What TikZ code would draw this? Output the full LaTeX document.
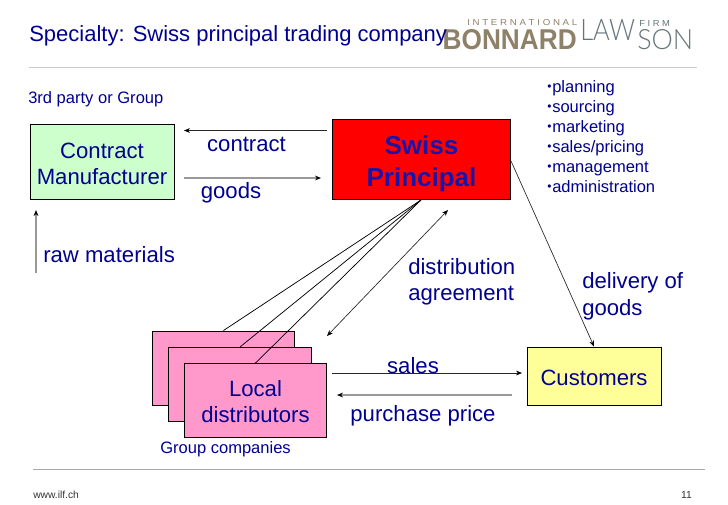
\documentclass[tikz,border=0pt]{standalone}
\usepackage{fontspec}
\setmainfont{Liberation Sans}
\newfontfamily\thinfont{Lato Light}
\usetikzlibrary{arrows.meta}
\definecolor{ink}{HTML}{000090}
\definecolor{boldink}{HTML}{1A14A8}
\definecolor{tanlogo}{HTML}{8F8068}
\definecolor{slate}{HTML}{66757A}
\definecolor{rulegrey}{HTML}{C8CCCC}
\definecolor{footgrey}{HTML}{A8A8A8}
\definecolor{cmgreen}{HTML}{CCFFCC}
\definecolor{pinkbox}{HTML}{FF99CC}
\definecolor{custyellow}{HTML}{FFFF99}
\newcommand{\bul}{\makebox[3.75pt][l]{\raisebox{1.2pt}{\fontsize{9}{9}\selectfont•}}}
\tikzset{
  x=0.75pt,y=-0.75pt,
  box/.style={draw=black,line width=0.75pt,inner sep=0pt},
  boxtext/.style={inner sep=0pt,align=center,text=ink,font=\fontsize{16.6}{19.5}\selectfont},
  lab/.style={inner sep=0pt,text=ink,font=\fontsize{16.6}{19.5}\selectfont,align=left},
  small/.style={inner sep=0pt,text=ink,font=\fontsize{12.4}{15}\selectfont,anchor=west,align=left},
  bullet/.style={inner sep=0pt,text=ink,font=\fontsize{12.4}{15}\selectfont,anchor=base west},
  foot/.style={inner sep=0pt,text=black!80,font=\fontsize{7.7}{9}\selectfont},
  conn/.style={line width=0.5pt,draw=black!85},
  soft/.style={line width=0.9pt,draw=black!40},
  tip/.style={-{Stealth[length=4.5pt,width=3.6pt,black]}},
  tiptwo/.style={{Stealth[length=4.5pt,width=3.6pt,black]}-{Stealth[length=4.5pt,width=3.6pt,black]}},
  hrule/.style={line width=0.7pt,draw=rulegrey},
  logo/.style={inner sep=0pt},
}
\begin{document}
\begin{tikzpicture}
\useasboundingbox (0,0) rectangle (728,504);
\fill[white] (0,0) rectangle (728,504);
% rules
\coordinate (hl) at (29,67); \coordinate (hr) at (697,67);
\coordinate (fl) at (33,469); \coordinate (fr) at (705,469);
\draw[hrule] (hl) -- (hr);
\draw[hrule,draw=footgrey] (fl) -- (fr);
% logo
\node[logo,text=tanlogo,anchor=east] (bonnard) at (577,40) {\resizebox{100.5pt}{15pt}{\bfseries BONNARD}};
\node[logo,text=tanlogo,anchor=west] (intl) at (467,23) {\resizebox{82.5pt}{4.5pt}{I N T E R N A T I O N A L}};
\node[logo,text=slate,anchor=west] (law) at (580,30.5) {\resizebox{41pt}{15.7pt}{\thinfont LAW}};
\node[logo,text=slate,anchor=west] (firm) at (639,23) {\resizebox{23pt}{4.5pt}{F I R M}};
\node[logo,text=slate,anchor=west] (son) at (637,40) {\resizebox{42pt}{15pt}{\thinfont SON}};
% title
\node[inner sep=0pt,anchor=west,text=ink,font=\fontsize{16.5}{18}\selectfont] (title) at (29,36) {Specialty: Swiss principal trading company};
\node[small] (third) at (28,99) {3rd party or Group};
% boxes
\node[box,fill=cmgreen,minimum width=108pt,minimum height=56.5pt] (cm) at (102,162) {};
\node[box,fill=red,minimum width=134pt,minimum height=60.5pt] (swiss) at (421.5,159.5) {};
\node[box,fill=pinkbox,minimum width=107pt,minimum height=55.5pt] (d1) at (223.5,368) {};
\node[box,fill=pinkbox,minimum width=107pt,minimum height=55.5pt] (d2) at (240,384.5) {};
% lines from the principal to the tops of the distributor boxes
\coordinate (fan) at (421,200);
\draw[line width=0.55pt] (fan) -- (d1.north);
\draw[line width=0.55pt] (fan) -- (d2.north);
\node[box,fill=pinkbox,minimum width=107pt,minimum height=55.5pt] (d3) at (255.5,400.5) {};
\draw[line width=0.55pt] (fan) -- (d3.north);
\node[box,fill=custyellow,minimum width=100.5pt,minimum height=43.5pt] (cust) at (594,376) {};
% box texts
\node[boxtext] (tcm) at (102,164) {Contract\\Manufacturer};
\node[boxtext,text=boldink,font=\fontsize{19.5}{24}\bfseries\selectfont] (tswiss) at (421.5,164) {Swiss\\Principal};
\node[boxtext] (td3) at (255.5,401.5) {Local\\distributors};
\node[boxtext] (tcust) at (594,378) {Customers};
% bullet list
\node[bullet] (b1) at (547,92) {\bul planning};
\node[bullet] (b2) at (547,112) {\bul sourcing};
\node[bullet] (b3) at (547,132.5) {\bul marketing};
\node[bullet] (b4) at (547,152.5) {\bul sales/pricing};
\node[bullet] (b5) at (547,172.5) {\bul management};
\node[bullet] (b6) at (547,192.5) {\bul administration};
% connector labels
\node[lab] (lcontract) at (246.5,144) {contract};
\node[lab] (lgoods) at (231,193) {goods};
\node[lab,anchor=west] (lraw) at (43,255) {raw materials};
\node[lab,anchor=west] (ldist) at (408,281.5) {distribution\\[-0.1pt]agreement};
\node[lab,anchor=west] (ldel) at (582,296.5) {delivery of\\[1pt]goods};
\node[lab] (lsales) at (413,366) {sales};
\node[lab] (lprice) at (423,416) {purchase price};
\node[small] (lgroup) at (160,449) {Group companies};
% connector ends
\coordinate (cs) at (327,130.5); \coordinate (ce) at (184,130.5);
\coordinate (gs) at (184,178); \coordinate (ge) at (321,178);
\coordinate (rs) at (36,273); \coordinate (re) at (36,210);
\coordinate (as) at (448,210); \coordinate (ae) at (327,336);
\coordinate (ds) at (511,161); \coordinate (de) at (594,346.5);
\coordinate (ss) at (332,373); \coordinate (se) at (522,373);
\coordinate (ps) at (512,395); \coordinate (pe) at (337,395);
\draw[conn,tip] (cs) -- (ce);
\draw[soft,tip] (gs) -- (ge);
\draw[soft,tip] (rs) -- (re);
\draw[conn,tiptwo] (as) -- (ae);
\draw[conn,tip] (ds) -- (de);
\draw[conn,tip] (ss) -- (se);
\draw[soft,tip] (ps) -- (pe);
% footer
\node[foot,anchor=west] (url) at (33,495) {www.ilf.ch};
\node[foot,anchor=east] (page) at (692,495) {11};
\end{tikzpicture}
\end{document}
